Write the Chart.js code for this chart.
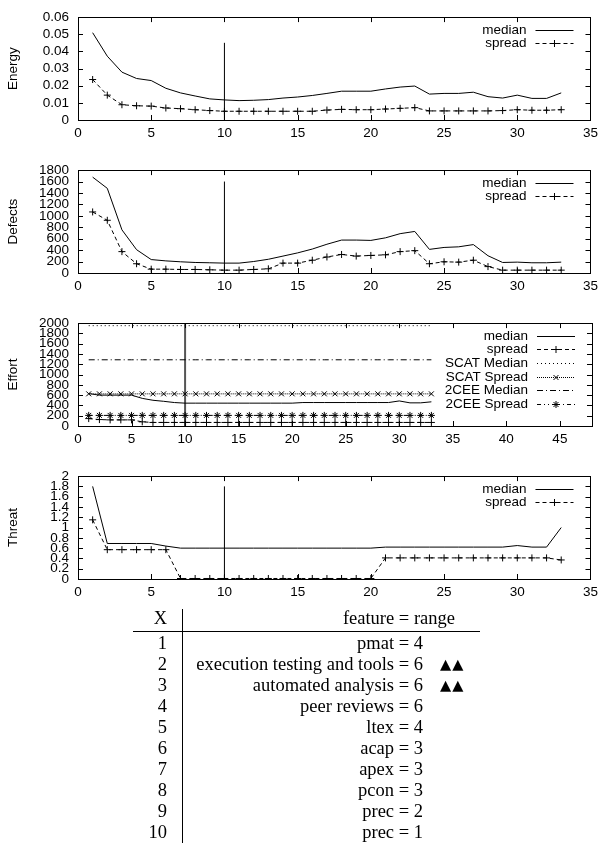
<!DOCTYPE html>
<html>
<head>
<meta charset="utf-8">
<script src="https://cdn.jsdelivr.net/npm/chart.js@4.4.1/dist/chart.umd.min.js"></script>
<style>
body{margin:0;background:#fff;}
#page{position:relative;width:603px;height:843px;overflow:hidden;background:#fff;}
#page canvas{position:absolute;left:0;}
.t{position:absolute;font-family:"Liberation Serif",serif;font-size:18.5px;line-height:21px;height:21px;white-space:nowrap;color:#000;}
.mk{position:absolute;font-family:"DejaVu Sans",sans-serif;font-size:14.5px;line-height:21px;height:21px;letter-spacing:1px;white-space:nowrap;}
.rule{position:absolute;background:#000;}
</style>
</head>
<body>
<div id="page">
<canvas id="energy" width="603" height="153" style="top:0px"></canvas>
<canvas id="defects" width="603" height="153" style="top:153px"></canvas>
<canvas id="effort" width="603" height="153" style="top:306px"></canvas>
<canvas id="threat" width="603" height="153" style="top:459px"></canvas>
<div id="table"></div>
</div>
<script>
// x positions shared by every series
var xs = [1,2,3,4,5,6,7,8,9,10,11,12,13,14,15,16,17,18,19,20,21,22,23,24,25,26,27,28,29,30,31,32,33];

var energyMedian = [0.0509,0.0372,0.0279,0.0242,0.023,0.0185,0.0158,0.014,0.0123,0.0117,0.0113,0.0115,0.0119,0.0128,0.0134,0.0143,0.0155,0.0168,0.0168,0.0168,0.0181,0.0192,0.0198,0.0151,0.0155,0.0155,0.0162,0.0136,0.0128,0.0145,0.0126,0.0126,0.0158];
var energySpread = [0.0236,0.0145,0.0089,0.0083,0.0081,0.007,0.0066,0.006,0.0055,0.0051,0.0051,0.0051,0.0051,0.0051,0.0051,0.0051,0.0058,0.0062,0.006,0.006,0.0064,0.0068,0.0072,0.0053,0.0053,0.0053,0.0053,0.0053,0.0055,0.006,0.0057,0.0057,0.006];

var defectsMedian = [1677,1481,755,408,235,212,196,184,179,173,173,201,240,296,352,419,503,576,576,570,615,688,727,413,447,458,497,302,184,190,179,179,190];
var defectsSpread = [1068,922,374,162,67,67,62,62,56,50,50,62,73,173,173,224,280,324,296,307,318,374,391,162,196,190,224,112,50,50,50,50,50];

var effortMedian = [630,600,600,600,600,537,500,480,456,444,444,444,444,444,444,444,444,444,444,444,456,456,456,456,456,456,456,456,456,487,450,450,470];
var effortSpread = [144,125,119,119,119,81,69,69,69,69,69,69,69,69,69,69,69,69,69,69,69,69,69,69,69,69,69,69,69,69,69,69,69];
var scatMedian = [1950,1950,1950,1950,1950,1950,1950,1950,1950,1950,1950,1950,1950,1950,1950,1950,1950,1950,1950,1950,1950,1950,1950,1950,1950,1950,1950,1950,1950,1950,1950,1950,1950];
var scatSpread = [625,625,625,625,625,625,625,625,625,625,625,625,625,625,625,625,625,625,625,625,625,625,625,625,625,625,625,625,625,625,625,625,625];
var ceeMedian = [1287,1287,1287,1287,1287,1287,1287,1287,1287,1287,1287,1287,1287,1287,1287,1287,1287,1287,1287,1287,1287,1287,1287,1287,1287,1287,1287,1287,1287,1287,1287,1287,1287];
var ceeSpread = [206,206,206,206,206,206,206,206,206,206,206,206,206,206,206,206,206,206,206,206,206,206,206,206,206,206,206,206,206,206,206,206,206];

var threatMedian = [1.8,0.69,0.69,0.69,0.69,0.64,0.6,0.6,0.6,0.6,0.6,0.6,0.6,0.6,0.6,0.6,0.6,0.6,0.6,0.6,0.62,0.62,0.62,0.62,0.62,0.62,0.62,0.62,0.62,0.65,0.62,0.62,1.0];
var threatSpread = [1.15,0.57,0.57,0.57,0.57,0.57,0.01,0.01,0.01,0.01,0.01,0.01,0.01,0.01,0.01,0.01,0.01,0.01,0.01,0.01,0.41,0.41,0.41,0.41,0.41,0.41,0.41,0.41,0.41,0.41,0.41,0.41,0.37];

// vertical marker at x = 10
var markX = [10, 10];
var energyMark = [0, 0.045];
var defectsMark = [0, 1600];
var effortMark = [0, 2000];
var threatMark = [0, 1.8];

var xTicks35 = [0,5,10,15,20,25,30,35];
var xTicks45 = [0,5,10,15,20,25,30,35,40,45];
var energyTicks = [0,0.01,0.02,0.03,0.04,0.05,0.06];
var defectsTicks = [0,200,400,600,800,1000,1200,1400,1600,1800];
var effortTicks = [0,200,400,600,800,1000,1200,1400,1600,1800,2000];
var threatTicks = [0,0.2,0.4,0.6,0.8,1,1.2,1.4,1.6,1.8,2];

var tableX = ['1','2','3','4','5','6','7','8','9','10'];
var tableFeature = ['pmat = 4','execution testing and tools = 6','automated analysis = 6','peer reviews = 6','ltex = 4','acap = 3','apex = 3','pcon = 3','prec = 2','prec = 1'];
var tableMark = ['','\u25B2\u25B2','\u25B2\u25B2','','','','','','',''];

var FONT = '"Liberation Sans", Arial, sans-serif';

function pts(xv, yv){
	let out = [];
	for(let i = 0; i < yv.length; i++){
		out.push({x: xv[i], y: yv[i]});
	}
	return out;
}

function series(label, ys, dash, style){
	return {
		label: label,
		data: pts(xs, ys),
		borderColor: '#000',
		borderWidth: 1,
		borderDash: dash,
		pointStyle: style || false,
		pointRadius: style ? 3.5 : 0,
		pointBorderWidth: 1,
		pointBorderColor: '#000',
		pointBackgroundColor: '#000'
	};
}

function marker(ys, width, color){
	return {
		label: '',
		data: pts(markX, ys),
		borderColor: color,
		borderWidth: width,
		pointRadius: 0
	};
}

// gnuplot style frame, inward ticks on all sides and key
var gnuFrame = {
	id: 'gnuFrame',
	afterDraw(chart){
		const ctx = chart.ctx;
		const a = chart.chartArea;
		const sx = chart.scales.x, sy = chart.scales.y;
		ctx.save();
		ctx.strokeStyle = '#000';
		ctx.lineWidth = 1;
		ctx.setLineDash([]);
		ctx.strokeRect(Math.round(a.left)+0.5, Math.round(a.top)+0.5, Math.round(a.right-a.left), Math.round(a.bottom-a.top));
		ctx.beginPath();
		sx.ticks.forEach(t => {
			let p = Math.round(sx.getPixelForValue(t.value)) + 0.5;
			ctx.moveTo(p, a.bottom); ctx.lineTo(p, a.bottom - 5);
			ctx.moveTo(p, a.top); ctx.lineTo(p, a.top + 5);
		});
		sy.ticks.forEach(t => {
			let p = Math.round(sy.getPixelForValue(t.value)) + 0.5;
			ctx.moveTo(a.left, p); ctx.lineTo(a.left + 5, p);
			ctx.moveTo(a.right, p); ctx.lineTo(a.right - 5, p);
		});
		ctx.stroke();

		let row = 0;
		ctx.font = '13.5px ' + FONT;
		ctx.textAlign = 'right';
		ctx.textBaseline = 'middle';
		ctx.fillStyle = '#000';
		chart.data.datasets.forEach(ds => {
			if(!ds.label) return;
			let yy = Math.round(a.top + 12.5 + row * 13.7) + 0.5;
			ctx.fillText(ds.label, a.right - 64, yy);
			ctx.setLineDash(ds.borderDash || []);
			ctx.beginPath();
			ctx.moveTo(a.right - 55, yy);
			ctx.lineTo(a.right - 17, yy);
			ctx.stroke();
			ctx.setLineDash([]);
			if(ds.pointStyle){
				Chart.helpers.drawPoint(ctx, {pointStyle: ds.pointStyle, radius: ds.pointRadius, borderWidth: 1, rotation: 0}, a.right - 36, yy);
			}
			row++;
		});
		ctx.restore();
	}
};

function makeChart(id, title, datasets, xMax, xTicks, yMax, yTicks){
	return new Chart(document.getElementById(id), {
		type: 'line',
		data: {datasets: datasets},
		plugins: [gnuFrame],
		options: {
			responsive: false,
			animation: false,
			layout: {padding: {top: 14, right: 11, left: 0, bottom: 0}},
			plugins: {legend: {display: false}, tooltip: {enabled: false}},
			elements: {line: {tension: 0}},
			scales: {
				x: {
					type: 'linear',
					min: 0,
					max: xMax,
					grid: {display: false, drawTicks: false},
					border: {display: false},
					afterBuildTicks: s => { s.ticks = xTicks.map(v => ({value: v})); },
					afterFit: s => { s.height = 33; },
					ticks: {autoSkip: false, maxRotation: 0, padding: 5, color: '#000', font: {family: FONT, size: 13.5}, callback: v => String(v)}
				},
				y: {
					type: 'linear',
					min: 0,
					max: yMax,
					grid: {display: false, drawTicks: false},
					border: {display: false},
					afterBuildTicks: s => { s.ticks = yTicks.map(v => ({value: v})); },
					afterFit: s => { s.width = 78; },
					title: {display: true, text: title, color: '#000', font: {family: FONT, size: 13.5}, padding: {top: 5, bottom: 0}},
					ticks: {autoSkip: false, padding: 9, color: '#000', font: {family: FONT, size: 13.5}, callback: v => String(v)}
				}
			}
		}
	});
}

makeChart('energy', 'Energy', [
	series('median', energyMedian, []),
	series('spread', energySpread, [4, 3], 'cross'),
	marker(energyMark, 1, '#000')
], 35, xTicks35, 0.06, energyTicks);

makeChart('defects', 'Defects', [
	series('median', defectsMedian, []),
	series('spread', defectsSpread, [4, 3], 'cross'),
	marker(defectsMark, 1, '#000')
], 35, xTicks35, 1800, defectsTicks);

makeChart('effort', 'Effort', [
	series('median', effortMedian, []),
	series('spread', effortSpread, [4, 3], 'cross'),
	series('SCAT Median', scatMedian, [1, 3]),
	series('SCAT Spread', scatSpread, [1, 1], 'crossRot'),
	series('2CEE Median', ceeMedian, [6, 3, 1, 3]),
	series('2CEE Spread', ceeSpread, [4, 3, 1, 3, 1, 3], 'star'),
	marker(effortMark, 2, '#555')
], 48, xTicks45, 2000, effortTicks);

makeChart('threat', 'Threat', [
	series('median', threatMedian, []),
	series('spread', threatSpread, [4, 3], 'cross'),
	marker(threatMark, 1, '#000')
], 35, xTicks35, 2, threatTicks);

// table under the plots
function cell(cls, text, top, left, right){
	let d = document.createElement('div');
	d.className = cls;
	d.textContent = text;
	d.style.top = top + 'px';
	if(right !== null){
		d.style.right = (603 - right) + 'px';
		d.style.textAlign = 'right';
	}else{
		d.style.left = left + 'px';
	}
	document.getElementById('table').appendChild(d);
}
function rule(left, top, w, h){
	let d = document.createElement('div');
	d.className = 'rule';
	d.style.left = left + 'px'; d.style.top = top + 'px';
	d.style.width = w + 'px'; d.style.height = h + 'px';
	document.getElementById('table').appendChild(d);
}

cell('t', 'X', 618 - 10.5, null, 167);
cell('t', 'feature = range', 618 - 10.5, null, 455);
rule(182, 609, 1, 234);
rule(133, 631, 347, 1);
for(let i = 0; i < tableX.length; i++){
	let c = 643 + 21 * i - 10.5;
	cell('t', tableX[i], c, null, 167);
	cell('t', tableFeature[i], c, null, 423);
	if(tableMark[i]) cell('mk', tableMark[i], c, 440, null);
}
</script>
</body>
</html>
